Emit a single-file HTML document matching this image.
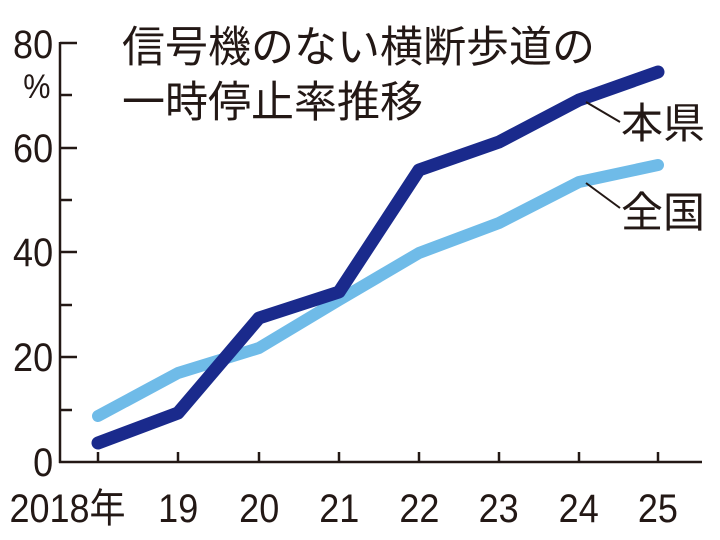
<!DOCTYPE html>
<html><head><meta charset="utf-8"><style>
html,body{margin:0;padding:0;background:#fff;}
svg{display:block;}
text{font-family:"Liberation Sans","Noto Sans CJK JP",sans-serif;fill:#231815;}
</style></head><body>
<svg width="720" height="540" viewBox="0 0 720 540">
<g stroke="#231815" stroke-width="2.5" fill="none">
<line x1="60" y1="42" x2="60" y2="463"/>
<line x1="59" y1="462" x2="702" y2="462"/>
<line x1="60" y1="43" x2="77" y2="43"/>
<line x1="60" y1="95" x2="72" y2="95"/>
<line x1="60" y1="148" x2="77" y2="148"/>
<line x1="60" y1="200" x2="72" y2="200"/>
<line x1="60" y1="252" x2="77" y2="252"/>
<line x1="60" y1="305" x2="72" y2="305"/>
<line x1="60" y1="357" x2="77" y2="357"/>
<line x1="60" y1="410" x2="72" y2="410"/>
<line x1="98" y1="462" x2="98" y2="452"/>
<line x1="178" y1="462" x2="178" y2="452"/>
<line x1="259" y1="462" x2="259" y2="452"/>
<line x1="339" y1="462" x2="339" y2="452"/>
<line x1="419" y1="462" x2="419" y2="452"/>
<line x1="499" y1="462" x2="499" y2="452"/>
<line x1="579" y1="462" x2="579" y2="452"/>
<line x1="658" y1="462" x2="658" y2="452"/>
</g>
<g font-size="40" text-anchor="end" transform="scale(0.9,1)">
<text x="59" y="58">80</text>
<text x="56" y="98" font-size="34">%</text>
<text x="59" y="162">60</text>
<text x="59" y="266">40</text>
<text x="59" y="371">20</text>
<text x="59" y="476">0</text>
</g>
<g font-size="40" text-anchor="middle" transform="scale(0.9,1)">
<text x="75" y="522">2018年</text>
<text x="198" y="522">19</text>
<text x="288" y="522">20</text>
<text x="377" y="522">21</text>
<text x="466" y="522">22</text>
<text x="554" y="522">23</text>
<text x="643" y="522">24</text>
<text x="731" y="522">25</text>
</g>
<g font-size="43">
<text x="122" y="62">信号機のない横断歩道の</text>
<text x="122" y="117">一時停止率推移</text>
</g>
<polyline points="98,416 178,373 259,348 339,300 419,253 499,223 579,182 658,165" fill="none" stroke="#6fbbe8" stroke-width="12" stroke-linecap="round" stroke-linejoin="round"/>
<polyline points="98,443 178,413 259,318 339,292 419,170 499,142 579,100 658,72" fill="none" stroke="#1a2a8c" stroke-width="13" stroke-linecap="round" stroke-linejoin="round"/>
<g stroke="#231815" stroke-width="2">
<line x1="586" y1="102" x2="620" y2="122"/>
<line x1="586" y1="183" x2="620" y2="208"/>
</g>
<g font-size="42">
<text x="621" y="138">本県</text>
<text x="621" y="227">全国</text>
</g>
</svg>
</body></html>
